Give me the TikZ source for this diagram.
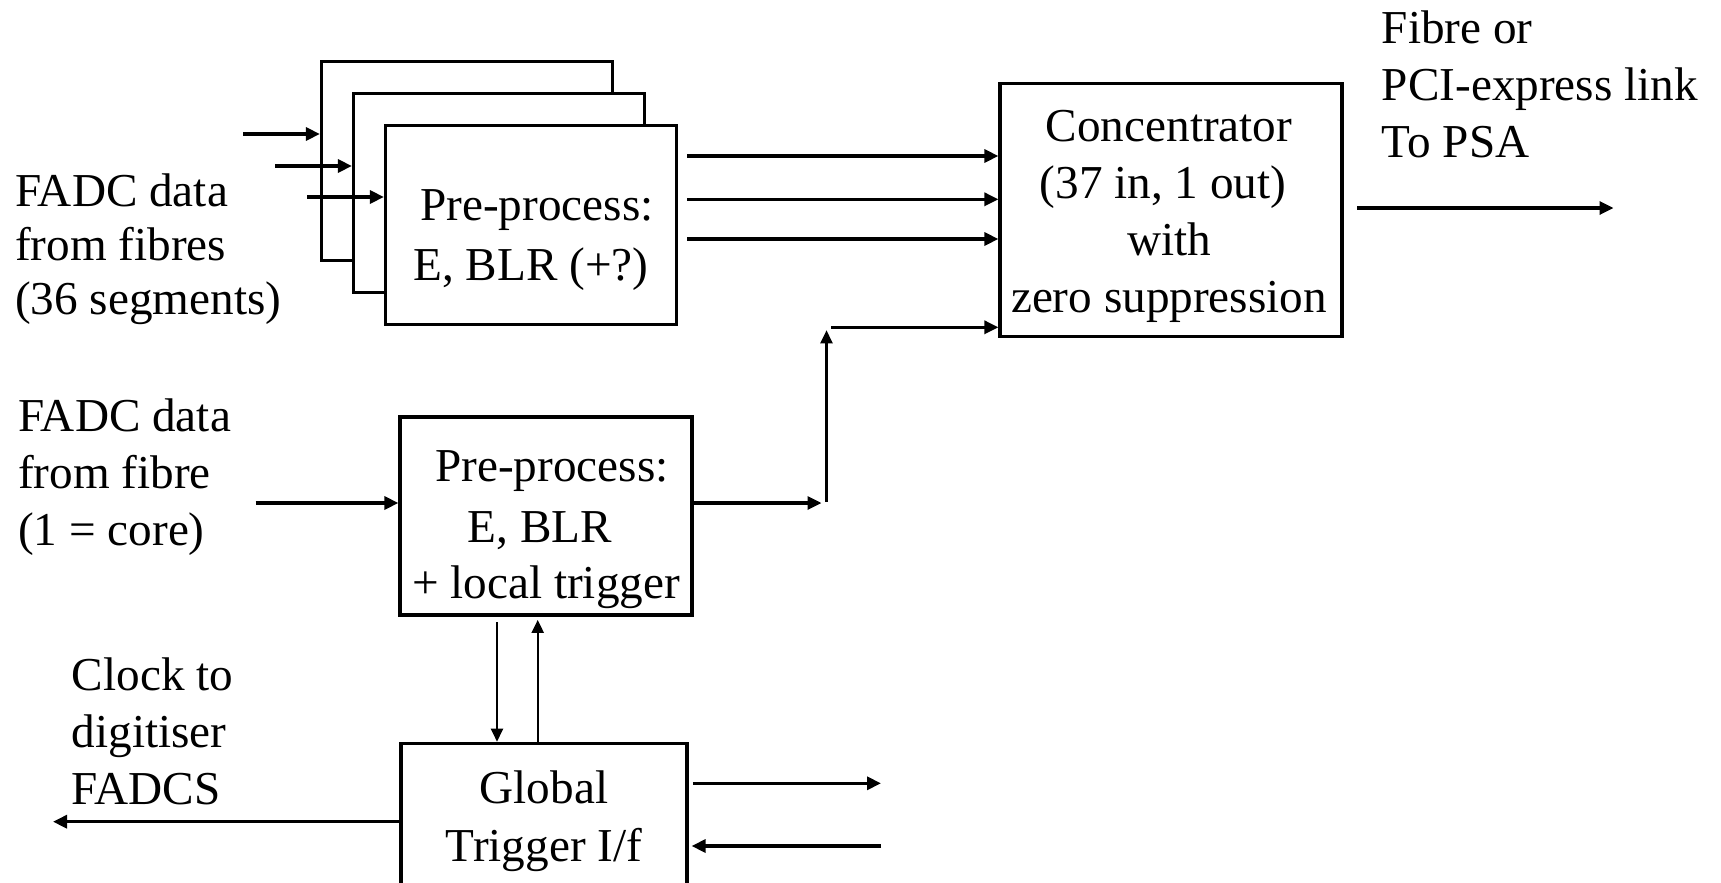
\documentclass[tikz,border=0pt]{standalone}
\usepackage{fontspec}
\setmainfont{Liberation Serif}
\usetikzlibrary{arrows.meta,calc}
\begin{document}
\begin{tikzpicture}[x=1pt,y=-1pt,
  blk/.style={draw, line width=3.2pt, fill=white, inner sep=0pt, rectangle},
  card/.style={blk, minimum width=291pt, minimum height=199pt},
  txt/.style={font=\fontsize{47.2}{57}\selectfont, inner sep=0pt, text width=400pt},
  ctxt/.style={txt, align=flush center, anchor=base},
  ltxt/.style={txt, align=flush left, anchor=base west},
  arr/.style={line width=3.2pt, -{Triangle[length=14pt,width=13pt]}},
  arrthin/.style={line width=2.4pt, -{Triangle[length=13pt,width=12pt]}},
]
\path[use as bounding box, clip] (0,0) rectangle (1721,883);
\fill[white] (0,0) rectangle (1721,883);

% stacked pre-processing cards (back to front)
\node[card] (pp1) at (467,161) {};
\node[card] (pp2) at (499,193) {};
\node[card] (pp3) at (531,225) {};
\node[ctxt] (pp3t) at (531,220) {\hspace*{.25em}Pre-process:\\[3.7pt]E, BLR (+?)};

% concentrator
\node[blk, minimum width=342pt, minimum height=253pt] (conc) at (1171,210) {};
\node[ctxt] (conct) at (1169,141.7) {Concentrator\\(37 in, 1 out)\kern.25em\\with\\zero suppression};

% core pre-processing
\node[blk, minimum width=292pt, minimum height=198pt] (ppc) at (546,516) {};
\node[ctxt] (ppct) at (546,481.7) {\hspace*{.25em}Pre-process:\\[4pt]E, BLR\kern.25em\\[-1.5pt]+ local trigger};

% global trigger interface (runs past the lower edge)
\node[blk, minimum width=286pt, minimum height=300pt] (glob) at (544,893.3) {};
\node[ctxt] (globt) at (544,803.3) {Global\\[1.3pt]Trigger I/f};

% free labels
\node[ltxt] (lab1) at (15,206.7) {FADC data\\[-3pt]from fibres\\[-3pt](36 segments)};
\node[ltxt] (lab2) at (18,431.7) {FADC data\\from fibre\\(1 = core)};
\node[ltxt] (lab3) at (71.7,690) {Clock to\\digitiser\\FADCS};
\node[ltxt] (lab4) at (1381.7,43.3) {Fibre or\\PCI-express link\\To PSA};

% segment inputs
\coordinate (in1) at (243,134);
\coordinate (in2) at (275,166);
\coordinate (in3) at (307,197);
\draw[arr] (in1) -- (pp1.west |- in1);
\draw[arr] (in2) -- (pp2.west |- in2);
\draw[arr] (in3) -- (pp3.west |- in3);

% segment outputs into the concentrator
\foreach \yy in {156,199.3,239}
  \draw[arr] ($(pp3.east |- 0,\yy)+(9.3,0)$) -- (conc.west |- 0,\yy);

% core chain
\coordinate (corein) at (255.7,503);
\coordinate (jn) at (826.5,503);
\coordinate (bend) at (826.5,327.3);
\draw[arr] (corein) -- (ppc.west |- corein);
\draw[arr] (ppc.east |- jn) -- ($(jn)+(-5,0)$);
\draw[arrthin] ($(jn)+(0,-1.3)$) -- ($(bend)+(0,3)$);
\draw[arr] ($(bend)+(4.5,0)$) -- (conc.west |- bend);

% local trigger <-> global trigger
\draw[arrthin] ($(ppc.south -| 497,0)+(0,5.7)$) -- (glob.north -| 497,0);
\draw[arrthin] (glob.north -| 537.7,0) -- ($(ppc.south -| 537.7,0)+(0,3.3)$);

% global trigger links
\coordinate (trigout) at (881,783.3);
\coordinate (trigin) at (881,846);
\coordinate (clk) at (53,821.7);
\draw[arr] ($(glob.east |- trigout)+(4.3,0)$) -- (trigout);
\draw[arr] (trigin) -- ($(glob.east |- trigin)+(3,0)$);
\draw[arr] (glob.west |- clk) -- (clk);

% concentrator output
\coordinate (psa) at (1613.5,208);
\draw[arr] ($(conc.east |- psa)+(13.5,0)$) -- (psa);
\end{tikzpicture}
\end{document}
